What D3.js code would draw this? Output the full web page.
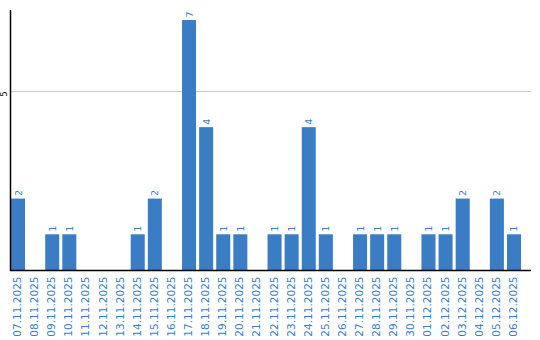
<!DOCTYPE html>
<html>
<head>
<meta charset="utf-8">
<script src="https://cdn.jsdelivr.net/npm/d3@7"></script>
<style>
html,body{margin:0;padding:0;background:#fff;}
svg{display:block;}
text{font-family:"DejaVu Sans", Verdana, sans-serif;}
</style>
</head>
<body>
<svg id="chart" width="540" height="340"></svg>
<script>
const dates = ["07.11.2025","08.11.2025","09.11.2025","10.11.2025","11.11.2025","12.11.2025","13.11.2025","14.11.2025","15.11.2025","16.11.2025","17.11.2025","18.11.2025","19.11.2025","20.11.2025","21.11.2025","22.11.2025","23.11.2025","24.11.2025","25.11.2025","26.11.2025","27.11.2025","28.11.2025","29.11.2025","30.11.2025","01.12.2025","02.12.2025","03.12.2025","04.12.2025","05.12.2025","06.12.2025"];
const values = [2,0,1,1,0,0,0,1,2,0,7,4,1,1,0,1,1,4,1,0,1,1,1,0,1,1,2,0,2,1];
const yTicks = [5];

const color = "#3b7dc4";
const svg = d3.select("#chart");
const mLeft = 11, mRight = 531, mTop = 10, mBottom = 270;

const x = d3.scaleBand().domain(dates).range([mLeft, mLeft + 17 * dates.length]).paddingInner(0.18).paddingOuter(0).align(0);
const y = d3.scaleLinear().domain([0, 7.28]).range([mBottom, mTop]);

// gridlines
svg.append("g").selectAll("line").data(yTicks).join("line")
  .attr("x1", mLeft).attr("x2", mRight)
  .attr("y1", d => Math.round(y(d)) + 0.5).attr("y2", d => Math.round(y(d)) + 0.5)
  .attr("stroke", "#c8c8c8").attr("stroke-width", 1);

// y tick labels
svg.append("g").selectAll("text").data(yTicks).join("text")
  .attr("transform", d => `translate(7,${y(d) + 2.5}) rotate(-90)`)
  .attr("text-anchor", "middle")
  .attr("font-family", "Liberation Sans, Arial, sans-serif")
  .attr("font-size", 8)
  .attr("fill", "#000")
  .text(d => d);

// bars
const bars = values.map((v, i) => ({d: dates[i], v}));
svg.append("g").selectAll("rect").data(bars.filter(b => b.v > 0)).join("rect")
  .attr("x", b => x(b.d))
  .attr("width", x.bandwidth())
  .attr("y", b => y(b.v))
  .attr("height", b => y(0) - y(b.v))
  .attr("fill", color);

// value labels
svg.append("g").selectAll("text").data(bars.filter(b => b.v > 0)).join("text")
  .attr("transform", b => `translate(${x(b.d) + x.bandwidth() / 2 + 3.5},${y(b.v) - 2.5}) rotate(-90)`)
  .attr("text-anchor", "start")
  .attr("font-size", 9.5)
  .attr("fill", color)
  .text(b => b.v);

// x labels
svg.append("g").selectAll("text").data(dates).join("text")
  .attr("transform", d => `translate(${x(d) + x.bandwidth() / 2 + 3},${mBottom + 6.5}) rotate(-90)`)
  .attr("text-anchor", "end")
  .attr("font-size", 10.5)
  .attr("fill", color)
  .text(d => d);

// axes lines
svg.append("line").attr("x1", 10.5).attr("x2", 10.5).attr("y1", mTop).attr("y2", mBottom + 1)
  .attr("stroke", "#000").attr("stroke-width", 1.5);
svg.append("line").attr("x1", 10).attr("x2", mRight).attr("y1", mBottom + 0.5).attr("y2", mBottom + 0.5)
  .attr("stroke", "#000").attr("stroke-width", 1.5);
</script>
</body>
</html>
